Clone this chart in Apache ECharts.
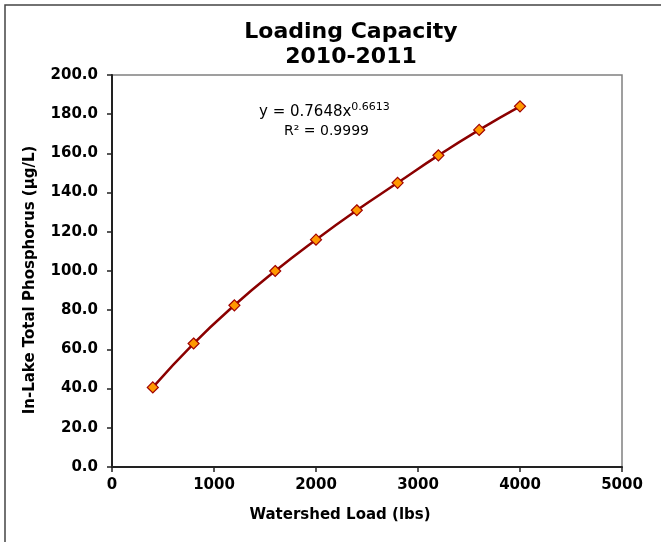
<!DOCTYPE html>
<html>
<head>
<meta charset="utf-8">
<script src="https://cdn.jsdelivr.net/npm/echarts@6/dist/echarts.min.js"></script>
<style>html,body{margin:0;padding:0;background:#fff}#c{width:661px;height:542px}</style>
</head>
<body>
<div id="c"></div>
<script>
var loads = [400, 800, 1200, 1600, 2000, 2400, 2800, 3200, 3600, 4000];
var phosphorus = [40.6, 63.0, 82.5, 100.0, 116.0, 131.0, 145.0, 159.0, 172.0, 184.0];
var titleLines = ['Loading Capacity', '2010-2011'];
var xName = 'Watershed Load (lbs)';
var yName = 'In-Lake Total Phosphorus (µg/L)';

var FONT = '"DejaVu Sans", Verdana, sans-serif';
var chart = echarts.init(document.getElementById('c'), null, {renderer: 'canvas'});
var pts = loads.map(function (x, i) { return [x, phosphorus[i]]; });

chart.setOption({
  animation: false,
  backgroundColor: '#fff',
  title: {
    text: titleLines.join('\n'),
    left: 346,
    textAlign: 'center',
    top: 15,
    textStyle: {fontFamily: FONT, fontWeight: 'bold', fontSize: 22, color: '#000', lineHeight: 25}
  },
  grid: {left: 112, right: 39, top: 75, bottom: 75, show: true, borderColor: '#808080', borderWidth: 1.5, backgroundColor: 'transparent'},
  xAxis: {
    type: 'value', min: 0, max: 5000, interval: 1000,
    name: xName, nameLocation: 'middle', nameGap: 41,
    nameTextStyle: {fontFamily: FONT, fontWeight: 'bold', fontSize: 15, color: '#000', padding: [0, 54, 0, 0]},
    axisLine: {show: true, onZero: false, lineStyle: {color: '#222', width: 2}},
    axisTick: {show: true, inside: false, length: 5, lineStyle: {color: '#222', width: 1.5}},
    axisLabel: {fontFamily: FONT, fontWeight: 'bold', fontSize: 15, color: '#000', margin: 11,
      formatter: function (v) { return String(v); }},
    splitLine: {show: false}
  },
  yAxis: {
    type: 'value', min: 0, max: 200, interval: 20,
    name: yName, nameLocation: 'middle', nameGap: 74,
    nameTextStyle: {fontFamily: FONT, fontWeight: 'bold', fontSize: 15, color: '#000', padding: [0, 18, 0, 0]},
    axisLine: {show: true, onZero: false, lineStyle: {color: '#222', width: 2}},
    axisTick: {show: true, inside: false, length: 5, lineStyle: {color: '#222', width: 1.5}},
    axisLabel: {fontFamily: FONT, fontWeight: 'bold', fontSize: 15, color: '#000', margin: 14,
      formatter: function (v) { return v.toFixed(1); }},
    splitLine: {show: false}
  },
  series: [{
    type: 'line',
    data: pts,
    smooth: true,
    lineStyle: {color: '#8B0000', width: 2.5},
    symbol: 'diamond',
    symbolSize: 11,
    showSymbol: true,
    itemStyle: {color: '#FF9900', borderColor: '#A00000', borderWidth: 1.2},
    z: 3
  }],
  graphic: [
    {type: 'rect', silent: true, shape: {x: 5, y: 5, width: 800, height: 700},
     style: {fill: 'none', stroke: '#444', lineWidth: 1.5}},
    {type: 'text', left: 259, top: 102, silent: true,
     style: {text: '{a|y = 0.7648x}{s|0.6613}', rich: {
       a: {fontFamily: FONT, fontSize: 15, fill: '#000', verticalAlign: 'bottom', lineHeight: 18},
       s: {fontFamily: FONT, fontSize: 11, fill: '#000', verticalAlign: 'top', lineHeight: 18, padding: [0, 0, 8, 0]}
     }}},
    {type: 'text', left: 284, top: 124, silent: true,
     style: {text: 'R² = 0.9999', fontFamily: FONT, fontSize: 14, fill: '#000'}}
  ]
});
</script>
</body>
</html>
